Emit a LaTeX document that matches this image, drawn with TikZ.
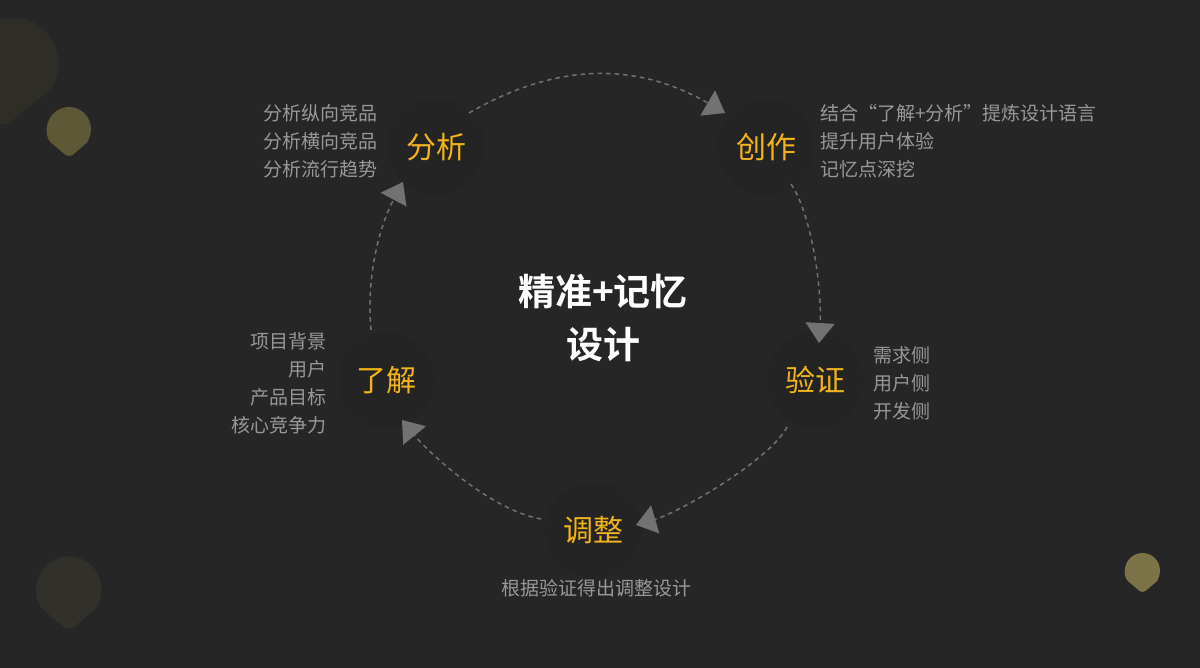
\documentclass[tikz,border=0pt]{standalone}
\usepackage{fontspec}
\setmainfont{Noto Sans CJK SC}[BoldFont={Noto Sans CJK SC Bold}]
\usetikzlibrary{arrows.meta,calc}
\definecolor{bg}{HTML}{262626}
\definecolor{nodebg}{HTML}{242424}
\definecolor{gold}{HTML}{F2B419}
\definecolor{note}{HTML}{989898}
\definecolor{arrowgray}{HTML}{727272}
\definecolor{blobA}{HTML}{2E2D26}
\definecolor{blobB}{HTML}{5E5837}
\definecolor{blobC}{HTML}{31302A}
\definecolor{blobD}{HTML}{7C7447}
\newcommand{\mydrop}[7]{%
  \pgfmathsetmacro{\phiang}{acos(#3/#4)}%
  \fill[#6, rounded corners=#7] ($(#1,#2)+(#5:#4)$) -- ($(#1,#2)+(#5+\phiang:#3)$)
    arc[start angle=#5+\phiang, end angle=#5+360-\phiang, radius=#3] -- cycle;}
\begin{document}
\begin{tikzpicture}[x=1pt,y=-1pt,
  stage/.style={circle, fill=nodebg, minimum size=96pt, inner sep=0pt, text=gold, font=\fontsize{30}{36}\selectfont},
  notes/.style={text=note, inner sep=0pt, font=\fontsize{19}{28}\selectfont},
  flow/.style={draw=arrowgray, line width=1.5pt, dash pattern=on 4.5pt off 4pt, -{Triangle[length=20pt,width=29pt]}}]
\fill[bg] (0,0) rectangle (1200,668);
\useasboundingbox (0,0) rectangle (1200,668);
% decorative teardrops
\mydrop{14}{62}{44}{68}{100}{blobA}{10pt}
\mydrop{69}{129}{22}{29}{90}{blobB}{5pt}
\mydrop{69}{589}{32.5}{42}{90}{blobC}{6pt}
\mydrop{1142.5}{570.5}{17.5}{23}{90}{blobD}{4pt}
% stages
\node[stage] (fx) at (436,147) {分析};
\node[stage] (cz) at (766,147) {创作};
\node[stage] (yz) at (815,380) {验证};
\node[stage] (tz) at (593,530) {调整};
\node[stage] (lj) at (386,380) {了解};
% centre title
\node[text=white, font=\bfseries\fontsize{37}{53}\selectfont, align=center, inner sep=0pt] (title) at (603,318) {精准+记忆\\设计};
% notes
\node[notes, anchor=east, align=right] (fxn) at (378,141) {分析纵向竞品\\分析横向竞品\\分析流行趋势};
\node[notes, anchor=west, align=left] (czn) at (820,141) {结合“了解+分析”提炼设计语言\\提升用户体验\\记忆点深挖};
\node[notes, anchor=west, align=left] (yzn) at (873,383) {需求侧\\用户侧\\开发侧};
\node[notes, anchor=east, align=right] (ljn) at (327,383) {项目背景\\用户\\产品目标\\核心竞争力};
\node[notes] (tzn) at (596,588) {根据验证得出调整设计};
% connector end points
\coordinate (a1s) at (469,113); \coordinate (a1e) at (725,113);
\coordinate (a2s) at (791,184); \coordinate (a2e) at (819,343);
\coordinate (a3s) at (787,427); \coordinate (a3e) at (636,525);
\coordinate (a4s) at (541,519); \coordinate (a4e) at (402,420);
\coordinate (a5s) at (371,330); \coordinate (a5e) at (403,182);
\draw[flow] (a1s) .. controls (557,62) and (637,62) .. (a1e);
\draw[flow] (a2s) .. controls (812,215) and (822,290) .. (a2e);
\draw[flow] (a3s) .. controls (770,460) and (680,512) .. (a3e);
\draw[flow] (a4s) .. controls (490,510) and (428,452) .. (a4e);
\draw[flow] (a5s) .. controls (366,275) and (380,225) .. (a5e);
\end{tikzpicture}
\end{document}
